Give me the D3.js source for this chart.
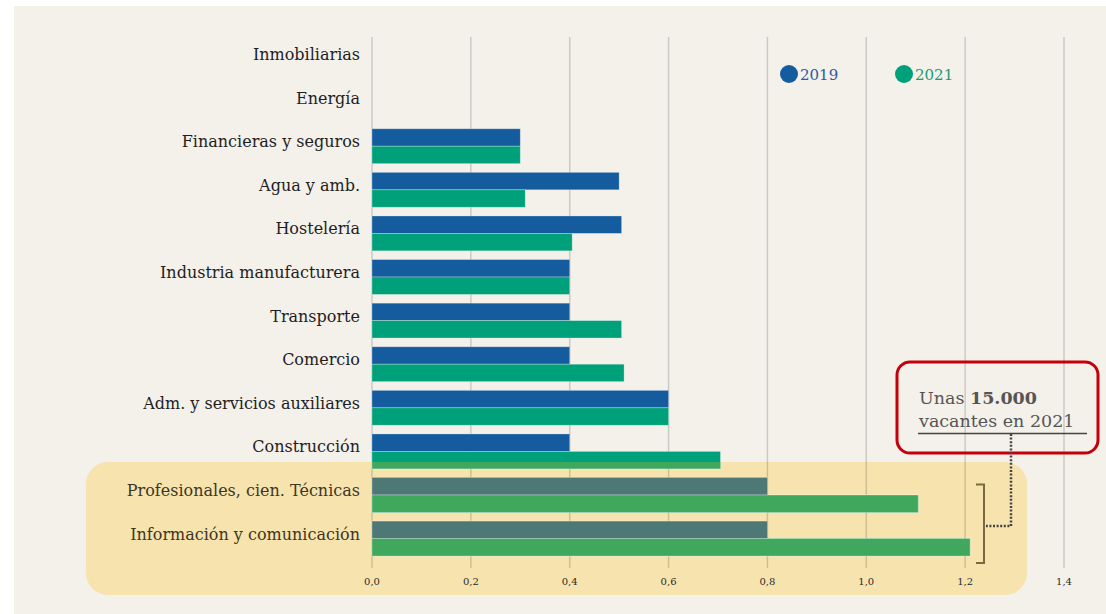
<!DOCTYPE html>
<html lang="es">
<head>
<meta charset="utf-8">
<title>Vacantes por sector</title>
<script src="https://d3js.org/d3.v7.min.js"></script>
<style>
  body { margin: 0; background: #fff; }
  svg text { font-family: "DejaVu Serif", serif; }
</style>
</head>
<body>
<script>
// datos
var sectores = ["Inmobiliarias", "Energía", "Financieras y seguros", "Agua y amb.", "Hostelería",
  "Industria manufacturera", "Transporte", "Comercio", "Adm. y servicios auxiliares",
  "Construcción", "Profesionales, cien. Técnicas", "Información y comunicación"];
var v2019 = [0, 0, 0.30, 0.50, 0.505, 0.40, 0.40, 0.40, 0.60, 0.40, 0.80, 0.80];
var v2021 = [0, 0, 0.30, 0.31, 0.405, 0.40, 0.505, 0.51, 0.60, 0.705, 1.105, 1.21];
var ticks = [0, 0.2, 0.4, 0.6, 0.8, 1.0, 1.2, 1.4];
var series = ["2019", "2021"];
var destacados = ["Profesionales, cien. Técnicas", "Información y comunicación"];

var width = 1106, height = 614;
var col = { "2019": "#155c9e", "2021": "#00a07a" };
var colHi = { "2019": "#4e7876", "2021": "#40a85c" };

var svg = d3.select("body").append("svg")
  .attr("width", width).attr("height", height);

svg.append("rect").attr("x", 14).attr("y", 6)
  .attr("width", width - 14).attr("height", height - 6)
  .attr("fill", "#f4f0ea");

var x = d3.scaleLinear().domain([0, 1.4]).range([372, 1064]);
var y = d3.scaleBand().domain(sectores).range([37.2, 560.4]).paddingInner(0.2).paddingOuter(0.1);
var ys = d3.scaleBand().domain(series).range([0, y.bandwidth()]);

// caja destacada
var hiTop = 462, hiBottom = 595;
svg.append("rect").attr("x", 86).attr("y", hiTop)
  .attr("width", 1027 - 86).attr("height", hiBottom - hiTop)
  .attr("rx", 22).attr("fill", "#f7e3ae");

// rejilla
svg.append("g").selectAll("line").data(ticks).enter().append("line")
  .attr("x1", d => x(d)).attr("x2", d => x(d))
  .attr("y1", 37).attr("y2", 568)
  .attr("stroke", "#000").attr("stroke-opacity", 0.16).attr("stroke-width", 1.5);

svg.append("g").selectAll("text").data(ticks).enter().append("text")
  .attr("x", d => x(d)).attr("y", 585)
  .attr("text-anchor", "middle")
  .attr("font-size", 10).attr("fill", "#2a2a2a")
  .text(d => d3.format(".1f")(d).replace(".", ","));

var filas = sectores.map(function(s, i) { return { s: s, a: v2019[i], b: v2021[i] }; });
var barras = [];
filas.forEach(function(f) {
  barras.push({ s: f.s, k: "2019", v: f.a });
  barras.push({ s: f.s, k: "2021", v: f.b });
});
barras = barras.filter(d => d.v > 0);

svg.append("defs").append("clipPath").attr("id", "hiClip")
  .append("rect").attr("x", 86).attr("y", hiTop).attr("width", 1027 - 86).attr("height", hiBottom - hiTop);

function dibujaBarras(g, colores) {
  g.selectAll("rect").data(barras).enter().append("rect")
    .attr("x", x(0))
    .attr("y", d => y(d.s) + ys(d.k))
    .attr("width", d => x(d.v) - x(0))
    .attr("height", ys.bandwidth())
    .attr("fill", d => colores[d.k])
    .attr("stroke", "#ffffff").attr("stroke-opacity", 0.35).attr("stroke-width", 0.8);
}
dibujaBarras(svg.append("g"), col);
dibujaBarras(svg.append("g").attr("clip-path", "url(#hiClip)"), colHi);

// etiquetas
svg.append("g").selectAll("text").data(sectores).enter().append("text")
  .attr("x", 360).attr("y", d => y(d) + y.bandwidth() / 2 + 1)
  .attr("text-anchor", "end")
  .attr("font-size", 16)
  .attr("fill", d => destacados.indexOf(d) >= 0 ? "#3e3622" : "#1e1e1e")
  .text(d => d);

// leyenda
var ley = svg.append("g");
[{ k: "2019", cx: 789, tx: 800 }, { k: "2021", cx: 904, tx: 915 }].forEach(function(l) {
  ley.append("circle").attr("cx", l.cx).attr("cy", 74).attr("r", 9).attr("fill", col[l.k]);
  ley.append("text").attr("x", l.tx).attr("y", 80).attr("font-size", 15)
    .attr("fill", l.k === "2019" ? "#2a5d9e" : "#179c76").text(l.k);
});

// anotacion
svg.append("rect").attr("x", 897).attr("y", 362).attr("width", 201).attr("height", 91)
  .attr("rx", 13).attr("fill", "none").attr("stroke", "#c4000b").attr("stroke-width", 3);
var t1 = svg.append("text").attr("x", 919).attr("y", 404).attr("font-size", 17.5).attr("fill", "#555");
t1.append("tspan").text("Unas ");
t1.append("tspan").attr("font-weight", "bold").text("15.000");
svg.append("text").attr("x", 919).attr("y", 427).attr("font-size", 17.5).attr("fill", "#555")
  .text("vacantes en 2021");
svg.append("line").attr("x1", 918).attr("x2", 1087).attr("y1", 433.5).attr("y2", 433.5)
  .attr("stroke", "#444").attr("stroke-width", 1.5);
svg.append("path").attr("d", "M1011,434 V526 H986")
  .attr("fill", "none").attr("stroke", "#444").attr("stroke-width", 2.5)
  .attr("stroke-dasharray", "2,1.6");
svg.append("path").attr("d", "M976,484.5 H984 V563 H976")
  .attr("fill", "none").attr("stroke", "#7a6a42").attr("stroke-width", 2);
</script>
</body>
</html>
